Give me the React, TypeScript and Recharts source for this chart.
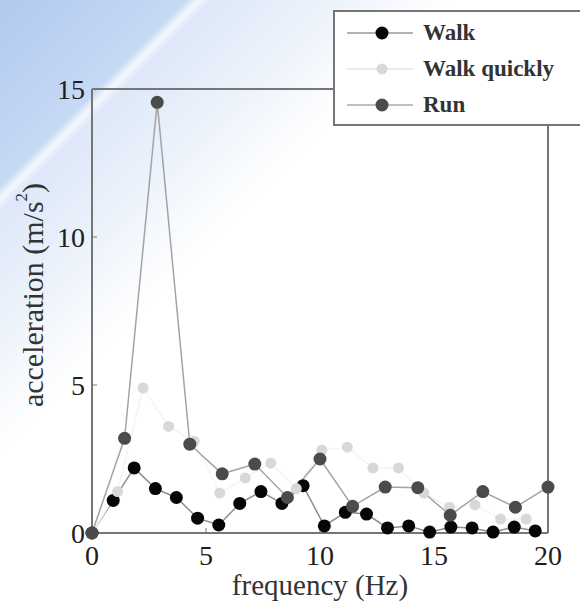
import { LineChart, Line, XAxis, YAxis, Legend, Label } from "recharts";

// frequency (Hz) / acceleration (m/s^2)
const WALK_FREQ = [0, 0.93, 1.85, 2.78, 3.7, 4.63, 5.56, 6.48, 7.41, 8.33, 9.26, 10.19, 11.11, 12.04, 12.96, 13.89, 14.81, 15.74, 16.67, 17.59, 18.52, 19.44];
const WALK_ACC = [0, 1.1, 2.2, 1.5, 1.2, 0.5, 0.27, 1.0, 1.4, 1.0, 1.6, 0.24, 0.7, 0.64, 0.17, 0.24, 0.03, 0.2, 0.17, 0.03, 0.2, 0.07];

const QUICK_FREQ = [0, 1.12, 2.24, 3.36, 4.48, 5.6, 6.72, 7.84, 8.96, 10.08, 11.2, 12.32, 13.44, 14.56, 15.68, 16.8, 17.92, 19.04];
const QUICK_ACC = [0, 1.4, 4.9, 3.6, 3.1, 1.35, 1.86, 2.36, 1.5, 2.8, 2.9, 2.2, 2.2, 1.35, 0.87, 0.95, 0.47, 0.47];

const RUN_FREQ = [0, 1.43, 2.86, 4.29, 5.71, 7.14, 8.57, 10, 11.43, 12.86, 14.29, 15.71, 17.14, 18.57, 20];
const RUN_ACC = [0, 3.2, 14.55, 3.0, 2.0, 2.33, 1.2, 2.5, 0.9, 1.55, 1.53, 0.6, 1.4, 0.87, 1.55];

const X_TICKS = [0, 5, 10, 15, 20];
const Y_TICKS = [0, 5, 10, 15];

const toPoints = (freq: number[], acc: number[]) =>
  freq.map((f, i) => ({ f, a: acc[i] }));

const SERIES = [
  { name: "Walk", data: toPoints(WALK_FREQ, WALK_ACC), line: "#8c8c8c", legendLine: "#999", dot: "#060606", r: 6.5 },
  { name: "Walk quickly", data: toPoints(QUICK_FREQ, QUICK_ACC), line: "#f4f4f4", legendLine: "#e6e6e6", dot: "#d8d8d8", r: 5.5 },
  { name: "Run", data: toPoints(RUN_FREQ, RUN_ACC), line: "#a3a3a3", legendLine: "#aaa", dot: "#4b4b4b", r: 6.5 },
];

const FONT = '"Liberation Serif", "Times New Roman", serif';
const AXIS = "#767676";

function LegendBox() {
  return (
    <div
      style={{
        width: 260,
        height: 116,
        boxSizing: "border-box",
        background: "#fff",
        border: `2px solid ${AXIS}`,
        paddingTop: 3,
      }}
    >
      {SERIES.map((s) => (
        <div key={s.name} style={{ display: "flex", alignItems: "center", height: 36 }}>
          <svg width={88} height={20}>
            <line x1={12} x2={78} y1={10} y2={10} stroke={s.legendLine} strokeWidth={1.5} />
            <circle cx={47} cy={10} r={s.r} fill={s.dot} />
          </svg>
          <span style={{ fontFamily: FONT, fontSize: 23, fontWeight: 700, color: "#333" }}>
            {s.name}
          </span>
        </div>
      ))}
    </div>
  );
}

const YTitle = ({ viewBox }: any) => {
  const x = viewBox.x;
  const y = viewBox.y + viewBox.height / 2 - 16;
  return (
    <text
      x={x}
      y={y}
      transform={`rotate(-90, ${x}, ${y})`}
      textAnchor="middle"
      dominantBaseline="central"
      fontFamily={FONT}
      fontSize={30}
      fill="#333"
    >
      acceleration (m/s<tspan fontSize={17} dy={-11}>2</tspan>
      <tspan dy={11}>)</tspan>
    </text>
  );
};

const XTitle = ({ viewBox }: any) => (
  <text
    x={viewBox.x + viewBox.width / 2}
    y={595}
    textAnchor="middle"
    fontFamily={FONT}
    fontSize={29}
    fill="#333"
  >
    frequency (Hz)
  </text>
);

export default function App() {
  const tick = { fill: "#1e1e1e", fontSize: 28, fontFamily: FONT };
  return (
    <div
      style={{
        position: "absolute",
        left: 0,
        top: 0,
        width: 580,
        height: 603,
        overflow: "hidden",
        fontFamily: FONT,
        background:
          "linear-gradient(135deg, #b2caef 0px, #c6d9f5 132px, #f3f7fd 140px, #dde8f8 150px, #ecf2fb 230px, #ffffff 320px)",
      }}
    >
      <LineChart
        width={580}
        height={603}
        margin={{ top: 87, right: 30, bottom: 30, left: 32 }}
      >
        <XAxis
          xAxisId="b"
          dataKey="f"
          type="number"
          domain={[0, 20]}
          ticks={X_TICKS}
          allowDuplicatedCategory={false}
          height={40}
          tick={tick}
          tickSize={-5}
          tickMargin={17}
          axisLine={{ stroke: AXIS, strokeWidth: 2 }}
          tickLine={{ stroke: AXIS }}
        >
          <Label content={XTitle} />
        </XAxis>
        <XAxis
          xAxisId="t"
          orientation="top"
          type="number"
          domain={[0, 20]}
          ticks={X_TICKS}
          height={2}
          tick={false}
          tickSize={-5}
          axisLine={{ stroke: AXIS, strokeWidth: 2 }}
          tickLine={{ stroke: AXIS }}
        />
        <YAxis
          yAxisId="l"
          type="number"
          domain={[0, 15]}
          ticks={Y_TICKS}
          width={60}
          tick={tick}
          tickSize={-5}
          tickMargin={12}
          axisLine={{ stroke: AXIS, strokeWidth: 2 }}
          tickLine={{ stroke: AXIS }}
        >
          <Label content={YTitle} />
        </YAxis>
        <YAxis
          yAxisId="r"
          orientation="right"
          type="number"
          domain={[0, 15]}
          ticks={Y_TICKS}
          width={2}
          tick={false}
          tickSize={-5}
          axisLine={{ stroke: AXIS, strokeWidth: 2 }}
          tickLine={{ stroke: AXIS }}
        />
        {SERIES.map((s) => (
          <Line
            key={s.name}
            xAxisId="b"
            yAxisId="l"
            data={s.data}
            dataKey="a"
            name={s.name}
            type="linear"
            stroke={s.line}
            strokeWidth={1.5}
            dot={{ r: s.r, fill: s.dot, stroke: s.dot, strokeWidth: 0 }}
            isAnimationActive={false}
          />
        ))}
        <Legend
          layout="horizontal"
          verticalAlign="middle"
          align="center"
          content={() => <LegendBox />}
          wrapperStyle={{ top: 10, left: 333, width: 260, height: 116 }}
        />
      </LineChart>
    </div>
  );
}
